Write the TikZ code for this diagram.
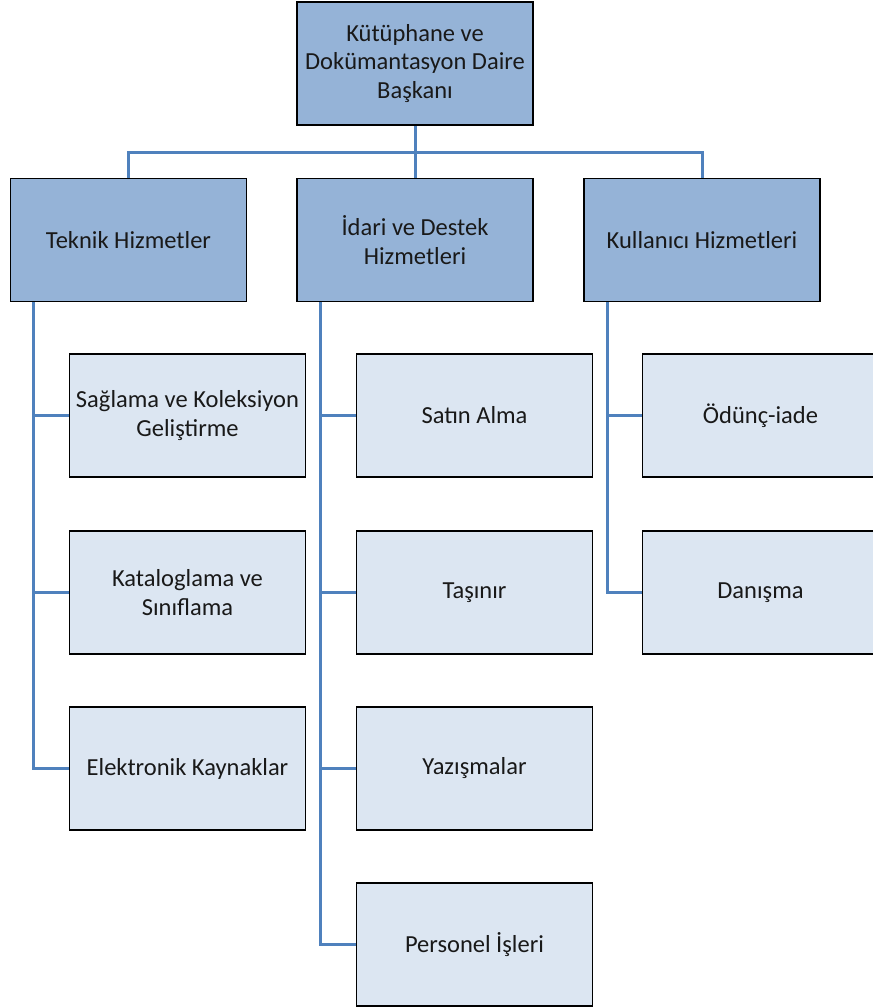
\documentclass[tikz,border=0pt]{standalone}
\usepackage{fontspec}
\setmainfont{Carlito}
\definecolor{headblue}{HTML}{95B3D7}
\definecolor{unitblue}{HTML}{DCE6F2}
\definecolor{lineblue}{HTML}{4F81BD}
\begin{document}
\begin{tikzpicture}[
    x=1pt, y=-1pt,
    head/.style={rectangle, draw=black, line width=1.5pt, fill=headblue,
        minimum width=236pt, minimum height=123pt, align=center,
        font=\fontsize{24.5}{28.5}\selectfont, text=black!90},
    unit/.style={head, fill=unitblue},
    edge/.style={draw=lineblue, line width=3pt, -}
]
    \useasboundingbox (0,0) rectangle (873,1007);
    \node[head] (top) at (415,63.5) {Kütüphane ve\\Dokümantasyon Daire\\Başkanı};
    \node[head] (teknik) at (128.5,240) {Teknik Hizmetler};
    \node[head] (idari) at (415,240) {İdari ve Destek\\Hizmetleri};
    \node[head] (kullanici) at (702,240) {Kullanıcı Hizmetleri};
    \coordinate (bus) at (415,152);
    \node[unit] (saglama) at (187.5,415.5) {Sağlama ve Koleksiyon\\Geliştirme};
    \node[unit] (katalog) at (187.5,592.5) {Kataloglama ve\\Sınıflama};
    \node[unit] (elektronik) at (187.5,768.5) {Elektronik Kaynaklar};
    \node[unit] (satin) at (474.5,415.5) {Satın Alma};
    \node[unit] (tasinir) at (474.5,592.5) {Taşınır};
    \node[unit] (yazisma) at (474.5,768.5) {Yazışmalar};
    \node[unit] (personel) at (474.5,944.5) {Personel İşleri};
    \node[unit] (odunc) at (760.5,415.5) {Ödünç-iade};
    \node[unit] (danisma) at (760.5,592.5) {Danışma};
    \draw[edge] (top.south) -- (idari.north);
    \draw[edge] (bus) -| (teknik.north);
    \draw[edge] (bus) -| (kullanici.north);
    \draw[edge] ([xshift=24pt]teknik.south west) |- (saglama.west);
    \draw[edge] ([xshift=24pt]teknik.south west) |- (katalog.west);
    \draw[edge] ([xshift=24pt]teknik.south west) |- (elektronik.west);
    \draw[edge] ([xshift=24pt]idari.south west) |- (satin.west);
    \draw[edge] ([xshift=24pt]idari.south west) |- (tasinir.west);
    \draw[edge] ([xshift=24pt]idari.south west) |- (yazisma.west);
    \draw[edge] ([xshift=24pt]idari.south west) |- (personel.west);
    \draw[edge] ([xshift=24pt]kullanici.south west) |- (odunc.west);
    \draw[edge] ([xshift=24pt]kullanici.south west) |- (danisma.west);
\end{tikzpicture}
\end{document}
